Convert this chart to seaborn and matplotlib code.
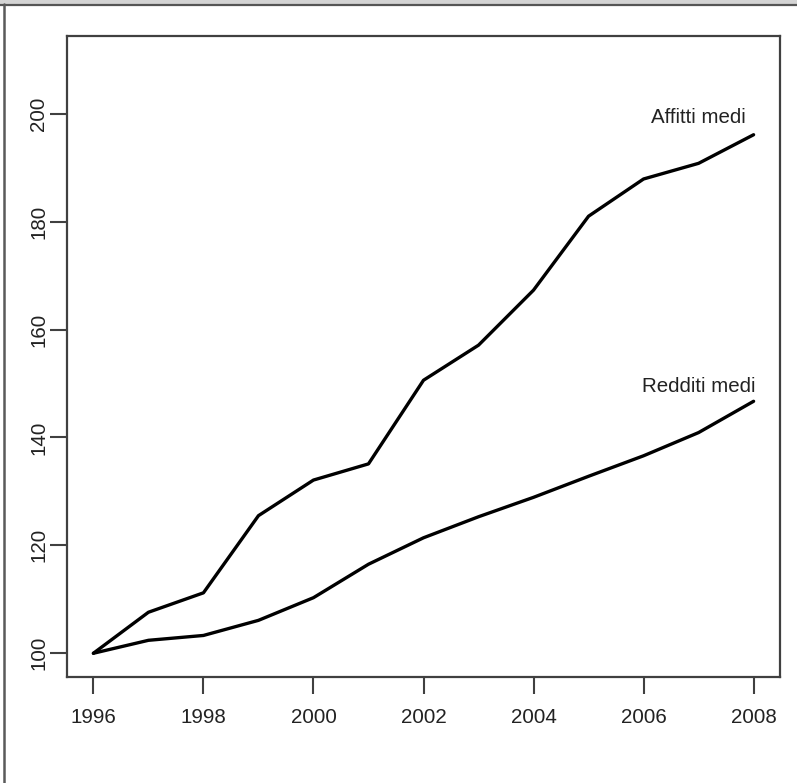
import matplotlib
matplotlib.use("Agg")
import matplotlib.pyplot as plt
from matplotlib.patches import Rectangle
from matplotlib.lines import Line2D
import numpy as np
import pandas as pd
import seaborn as sns

# Index numbers (1996 = 100)
years = [1996, 1997, 1998, 1999, 2000, 2001, 2002, 2003, 2004, 2005, 2006, 2007, 2008]
affitti_medi = [100.0, 107.6, 111.2, 125.5, 132.1, 135.1, 150.6, 157.1, 167.3, 181.0, 187.9, 190.8, 196.1]
redditi_medi = [100.0, 102.4, 103.3, 106.1, 110.3, 116.5, 121.4, 125.3, 128.9, 132.8, 136.6, 140.9, 146.7]
series_names = ["Affitti medi", "Redditi medi"]
x_ticks = [1996, 1998, 2000, 2002, 2004, 2006, 2008]
y_ticks = [100, 120, 140, 160, 180, 200]

df = pd.DataFrame({
    "anno": years * 2,
    "indice": affitti_medi + redditi_medi,
    "serie": [series_names[0]] * len(years) + [series_names[1]] * len(years),
})

sns.set_style("white")
plt.rcParams["font.family"] = ["Liberation Sans", "DejaVu Sans"]

W, H = 797, 783
fig = plt.figure(figsize=(W / 100, H / 100), dpi=100)
fig.patch.set_facecolor("white")

# window-like frame: light bar on top, dark rule under it, dark rule on the left
fig.add_artist(Rectangle((0, 1 - 4.5 / H), 1, 4.5 / H, transform=fig.transFigure,
                         facecolor="#d4d4d4", edgecolor="none", zorder=0))
fig.add_artist(Line2D([0, 1], [1 - 5 / H, 1 - 5 / H], transform=fig.transFigure,
                      color="#555555", lw=1.6))
fig.add_artist(Line2D([4 / W, 4 / W], [0, 1 - 4 / H], transform=fig.transFigure,
                      color="#5a5a5a", lw=1.8))

ax = fig.add_axes([67 / W, 1 - 677 / H, (780 - 67) / W, (677 - 36) / H])
sns.lineplot(data=df, x="anno", y="indice", units="serie", estimator=None,
             color="black", lw=2.4, ax=ax, legend=False)

ax.set_xlim(1995.52, 2008.48)
ax.set_ylim(95.6, 214.4)
ax.set_xticks(x_ticks)
ax.set_yticks(y_ticks)
ax.set_xticklabels([str(t) for t in x_ticks], fontsize=14.8, color="#222222")
ax.set_yticklabels([str(t) for t in y_ticks], fontsize=14.8, color="#222222",
                   rotation=90, va="center")
ax.tick_params(axis="both", direction="out", length=12, width=1.5, color="#404040",
               bottom=True, left=True)
ax.tick_params(axis="x", pad=10)
ax.tick_params(axis="y", pad=1.5)
for s in ax.spines.values():
    s.set_visible(True)
    s.set_color("#404040")
    s.set_linewidth(1.6)
ax.set_xlabel("")
ax.set_ylabel("")

ax.text(2007, 199.3, series_names[0], ha="center", va="center", fontsize=14.8, color="#222222")
ax.text(2007, 149.4, series_names[1], ha="center", va="center", fontsize=14.8, color="#222222")

fig.savefig("out.png", dpi=100, facecolor="white")
